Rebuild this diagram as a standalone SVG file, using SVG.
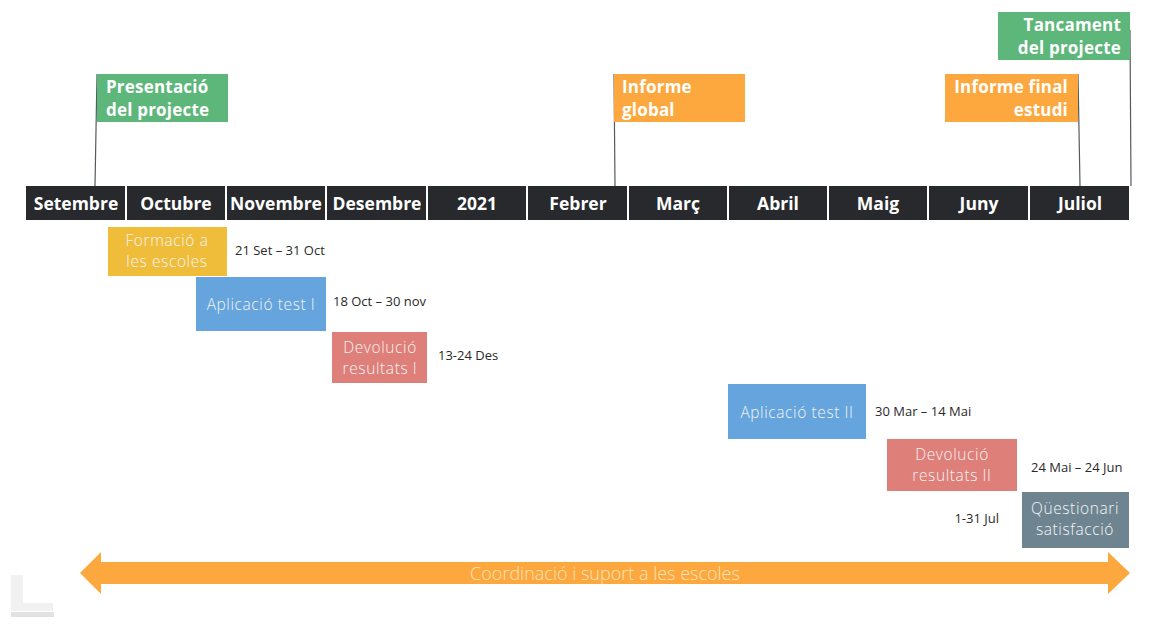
<svg xmlns="http://www.w3.org/2000/svg" width="1172" height="629" viewBox="0 0 1172 629">
<style>
.bg{fill:#ffffff}
.month rect{fill:#27292d}
.month text{font-family:"Open Sans",Lato,sans-serif;font-weight:700;font-size:17.5px;fill:#ffffff;text-anchor:middle}
.ms text{font-family:"Open Sans",Lato,sans-serif;font-weight:700;font-size:17px;letter-spacing:0.2px;fill:#ffffff}
.green{fill:#5db67a}
.orange{fill:#fda83e}
.task text{font-family:"Open Sans",Lato,sans-serif;font-weight:300;font-size:15.5px;letter-spacing:0.6px;fill:#f4f4f4;text-anchor:middle}
.date{font-family:"Open Sans",Lato,sans-serif;font-size:13px;fill:#2a2a2a}
.conn line{stroke:#555a60;stroke-width:1.2}
</style>
<rect class="bg" x="0" y="0" width="1172" height="629"/>
<g id="watermark">
<rect x="11" y="575" width="12" height="35" fill="#f1f1f1"/>
<rect x="11" y="603" width="42" height="8" fill="#f1f1f1"/>
<rect x="11" y="612" width="43" height="5" fill="#e2e2e2"/>
</g>
<g id="months" class="month">
<g id="m-set"><rect x="26" y="186" width="99" height="34"/><text x="76" y="210">Setembre</text></g>
<g id="m-oct"><rect x="127" y="186" width="98" height="34"/><text x="176" y="210">Octubre</text></g>
<g id="m-nov"><rect x="227" y="186" width="98" height="34"/><text x="276" y="210">Novembre</text></g>
<g id="m-des"><rect x="327" y="186" width="99" height="34"/><text x="377" y="210">Desembre</text></g>
<g id="m-2021"><rect x="428" y="186" width="98" height="34"/><text x="477" y="210">2021</text></g>
<g id="m-feb"><rect x="528" y="186" width="99" height="34"/><text x="578" y="210">Febrer</text></g>
<g id="m-mar"><rect x="629" y="186" width="98" height="34"/><text x="678" y="210">Març</text></g>
<g id="m-abr"><rect x="729" y="186" width="98" height="34"/><text x="778" y="210">Abril</text></g>
<g id="m-mai"><rect x="829" y="186" width="98" height="34"/><text x="878" y="210">Maig</text></g>
<g id="m-jun"><rect x="929" y="186" width="99" height="34"/><text x="979" y="210">Juny</text></g>
<g id="m-jul"><rect x="1030" y="186" width="99" height="34"/><text x="1080" y="210">Juliol</text></g>
</g>
<g id="connectors" class="conn">
<line x1="95" y1="186" x2="97" y2="74"/>
<line x1="615" y1="186" x2="614" y2="74"/>
<line x1="1080" y1="186" x2="1078" y2="74"/>
<line x1="1131" y1="186" x2="1130" y2="30"/>
</g>
<g id="ms-presentacio" class="ms">
<rect class="green" x="97" y="74" width="131" height="48"/>
<text x="106" y="93">Presentació</text><text x="106" y="116">del projecte</text>
</g>
<g id="ms-informe-global" class="ms">
<rect class="orange" x="614" y="74" width="131" height="48"/>
<text x="622" y="93">Informe</text><text x="622" y="116">global</text>
</g>
<g id="ms-informe-final" class="ms">
<rect class="orange" x="945" y="74" width="133" height="48"/>
<text x="1068" y="93" text-anchor="end">Informe final</text><text x="1068" y="116" text-anchor="end">estudi</text>
</g>
<g id="ms-tancament" class="ms">
<rect class="green" x="998" y="12" width="132" height="48"/>
<text x="1121" y="31" text-anchor="end">Tancament</text><text x="1121" y="54" text-anchor="end">del projecte</text>
</g>
<g id="t-formacio" class="task">
<rect x="108" y="227" width="119" height="49" fill="#f0bd3b"/>
<text x="167" y="246">Formació a</text><text x="167" y="267">les escoles</text>
</g>
<text class="date" x="235" y="255">21 Set – 31 Oct</text>
<g id="t-aplicacio1" class="task">
<rect x="196" y="277" width="130" height="54" fill="#65a4dc"/>
<text x="261" y="310">Aplicació test I</text>
</g>
<text class="date" x="333" y="306">18 Oct – 30 nov</text>
<g id="t-devolucio1" class="task">
<rect x="332" y="332" width="95" height="51" fill="#de7f79"/>
<text x="380" y="353">Devolució</text><text x="380" y="374">resultats I</text>
</g>
<text class="date" x="438" y="360">13-24 Des</text>
<g id="t-aplicacio2" class="task">
<rect x="728" y="384" width="138" height="55" fill="#65a4dc"/>
<text x="797" y="418">Aplicació test II</text>
</g>
<text class="date" x="875" y="416">30 Mar – 14 Mai</text>
<g id="t-devolucio2" class="task">
<rect x="887" y="439" width="130" height="52" fill="#de7f79"/>
<text x="952" y="460">Devolució</text><text x="952" y="481">resultats II</text>
</g>
<text class="date" x="1031" y="472">24 Mai – 24 Jun</text>
<g id="t-questionari" class="task">
<rect x="1022" y="492" width="107" height="56" fill="#6e8591"/>
<text x="1075" y="514">Qüestionari</text><text x="1075" y="535">satisfacció</text>
</g>
<text class="date" x="999" y="523" text-anchor="end">1-31 Jul</text>
<g id="coordinacio">
<polygon points="80,573 101,552 101,562 1108,562 1108,552 1130,573 1108,594 1108,584 101,584 101,594" fill="#fca83f"/>
<text x="605" y="580" font-family="'Open Sans',Lato,sans-serif" font-weight="300" font-size="18" fill="#fde3b8" text-anchor="middle">Coordinació i suport a les escoles</text>
</g>
</svg>
